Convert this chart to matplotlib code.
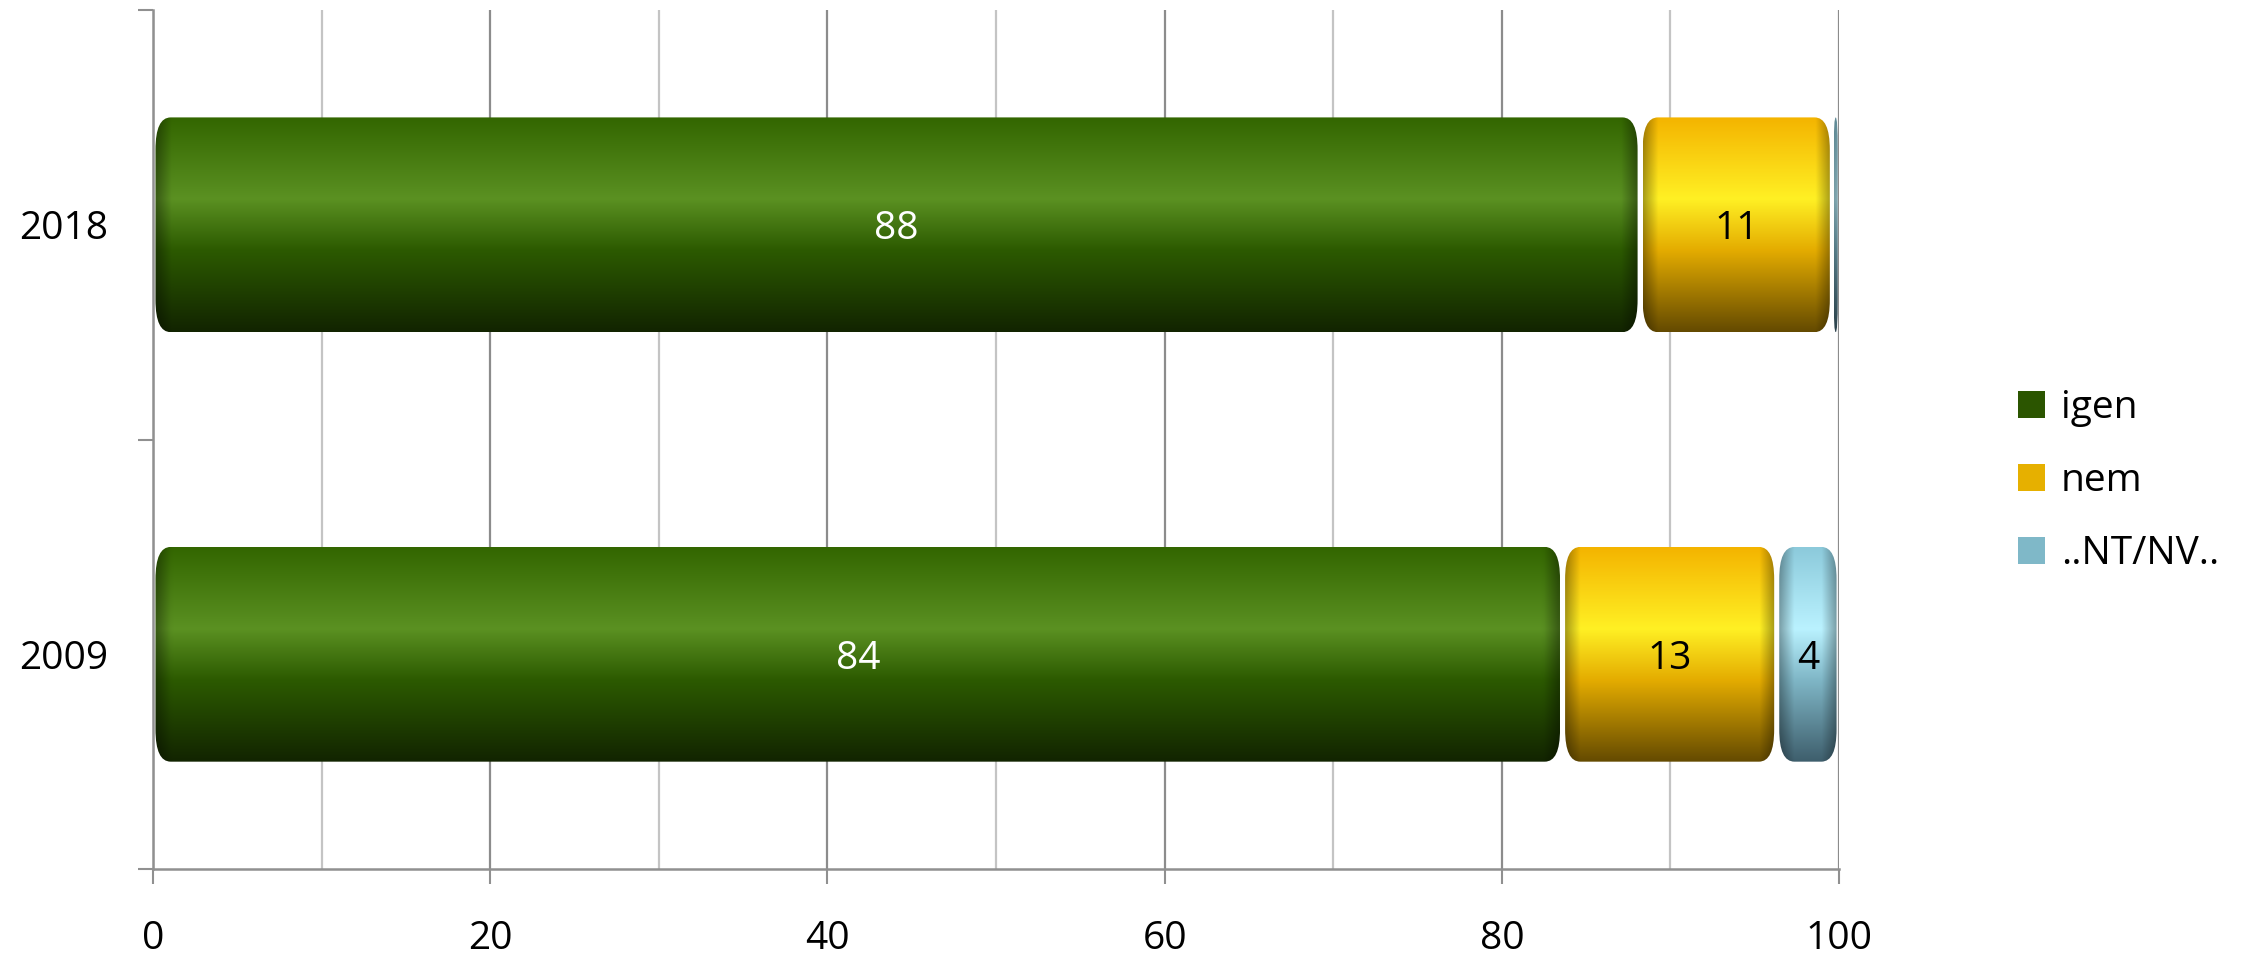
import matplotlib
matplotlib.use('Agg')
import matplotlib.pyplot as plt
import numpy as np
from matplotlib.patches import FancyBboxPatch, Patch
from matplotlib.colors import to_rgb

plt.rcParams['font.family'] = ['Open Sans', 'DejaVu Sans']

# adatok (százalék)
years = ['2009', '2018']
series = ['igen', 'nem', '..NT/NV..']
igen = [83.6, 88.2]
nem = [12.7, 11.4]
ntnv = [3.7, 0.4]

label_colors = ['white', 'black', 'black']
# függőleges színátmenet: felső, fényes, közép, alsó
gradients = [
    ['#336600', '#5b9122', '#2c5a00', '#122400'],
    ['#f4b400', '#fff024', '#e4ac00', '#644a00'],
    ['#8ccadb', '#baf2ff', '#7fb6c6', '#3e5e6c'],
]
legend_colors = ['#2b5500', '#e6b000', '#7fb8c8']

fig = plt.figure(figsize=(22.56, 9.55), dpi=100)
ax = fig.add_axes([0.0678, 0.090, 0.8152 - 0.0678, 0.8995])

y = np.arange(len(years)) + 0.5
bar_h = 0.5
left = np.zeros(len(years))
values = [igen, nem, ntnv]


def gradient_image(stops, width_units):
    ny, nx = 200, 400
    t = np.linspace(0, 1, ny)
    pos = [0.0, 0.38, 0.62, 1.0]
    cols = np.array([to_rgb(c) for c in stops])
    prof = np.stack([np.interp(t, pos, cols[:, k]) for k in range(3)], axis=1)
    img = np.repeat(prof[:, None, :], nx, axis=1)
    # sötétebb perem a végeken
    xs = np.linspace(0, width_units, nx)
    d = np.minimum(xs, width_units - xs)
    shade = 0.65 + 0.35 * np.clip(d / 0.9, 0, 1)
    img = img * shade[None, :, None]
    return np.clip(img, 0, 1)


for i, vals in enumerate(values):
    bars = ax.barh(y, vals, height=bar_h, left=left, color='none', edgecolor='none')
    for b, v in zip(bars, vals):
        x0, y0 = b.get_x(), b.get_y()
        w, h = b.get_width(), b.get_height()
        gap = min(0.15, w * 0.2)
        px0, pw = x0 + gap, max(w - 2 * gap, 0.05)
        rs = min(0.9, pw / 2)
        patch = FancyBboxPatch((px0, y0), pw, h,
                               boxstyle='round,pad=0,rounding_size=%f' % rs,
                               mutation_aspect=0.075 / rs if rs > 0 else 1,
                               facecolor='none', edgecolor='none', zorder=2)
        ax.add_patch(patch)
        im = ax.imshow(gradient_image(gradients[i], pw), extent=[px0, px0 + pw, y0, y0 + h],
                       origin='upper', aspect='auto', zorder=2, interpolation='bilinear')
        im.set_clip_path(patch)
        if v >= 1:
            ax.text(x0 + w / 2, y0 + h / 2 - 0.01, '%d' % round(v), ha='center', va='center',
                    fontsize=28, color=label_colors[i], zorder=3)
    left = left + np.array(vals)

ax.set_xlim(0, 100)
ax.set_ylim(0, 2)

ax.set_xticks(np.arange(0, 101, 20))
ax.set_xticks(np.arange(10, 100, 20), minor=True)
ax.set_xticklabels([str(v) for v in range(0, 101, 20)], fontsize=28)
ax.set_yticks([0, 1, 2])
ax.set_yticklabels(['', '', ''])
ax.set_yticks(y, minor=True)
ax.set_yticklabels(years, minor=True, fontsize=28)

ax.tick_params(axis='x', which='major', length=11, width=1.5, color='#909090', pad=26)
ax.tick_params(axis='x', which='minor', length=0)
ax.tick_params(axis='y', which='major', length=11, width=1.5, color='#909090')
ax.tick_params(axis='y', which='minor', length=0, pad=32)

ax.grid(axis='x', which='major', color='#8c8c8c', linewidth=1.6, zorder=0)
ax.grid(axis='x', which='minor', color='#c4c4c4', linewidth=1.6, zorder=0)
ax.set_axisbelow(True)

for s in ['top', 'right']:
    ax.spines[s].set_visible(False)
for s in ['left', 'bottom']:
    ax.spines[s].set_color('#909090')
    ax.spines[s].set_linewidth(1.8)

handles = [Patch(facecolor=c, edgecolor='none') for c in legend_colors]
fig.legend(handles, series, loc='center left', bbox_to_anchor=(0.879, 0.496),
           frameon=False, fontsize=28, handlelength=0.7, handleheight=0.7,
           handletextpad=0.4, labelspacing=0.9)

fig.savefig('out.png', dpi=100)
